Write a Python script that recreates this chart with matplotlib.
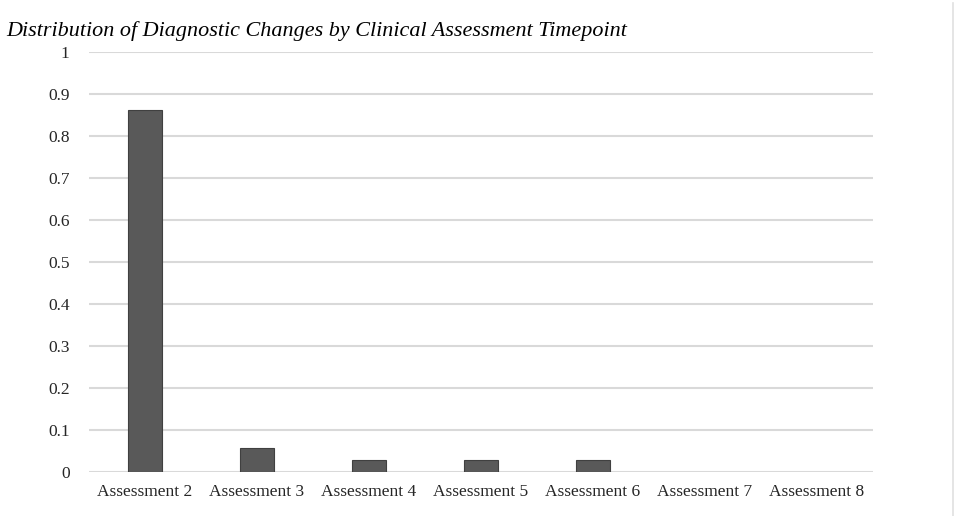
import matplotlib
matplotlib.use("Agg")
import matplotlib.pyplot as plt
from matplotlib.lines import Line2D

categories = ['Assessment 2', 'Assessment 3', 'Assessment 4', 'Assessment 5',
              'Assessment 6', 'Assessment 7', 'Assessment 8']
values = [0.861, 0.056, 0.028, 0.028, 0.028, 0.0, 0.0]
yticks = [0, 0.1, 0.2, 0.3, 0.4, 0.5, 0.6, 0.7, 0.8, 0.9, 1]
ytick_labels = ['0', '0.1', '0.2', '0.3', '0.4', '0.5', '0.6', '0.7', '0.8', '0.9', '1']
title = 'Distribution of Diagnostic Changes by Clinical Assessment Timepoint'

plt.rcParams['font.family'] = ['Liberation Serif', 'DejaVu Serif']

fig = plt.figure(figsize=(9.57, 5.16), dpi=100)
ax = fig.add_axes([0.093, 0.0853, 0.819, 0.8137])

x = range(len(categories))
# no outline for empty bars so nothing shows on the baseline
edge_w = [0.8 if v > 0 else 0 for v in values]
ax.bar(x, values, width=0.3, color='#595959', edgecolor='#404040', linewidth=edge_w, zorder=3)

ax.set_xlim(-0.5, len(categories) - 0.5)
ax.set_ylim(0, 1)
ax.set_yticks(yticks)
ax.set_yticklabels(ytick_labels)
ax.set_xticks(list(x))
ax.set_xticklabels(categories)

ax.grid(axis='y', color='#d9d9d9', linewidth=1.5, zorder=0)
ax.tick_params(axis='both', length=0, labelsize=12.5, colors='#404040', labelcolor='#262626')
ax.tick_params(axis='x', pad=9)
ax.tick_params(axis='y', pad=14)

# remove frame
for s in ax.spines.values():
    s.set_visible(False)

fig.text(0.007, 0.94, title, fontsize=15.9, style='italic', color='black', ha='left', va='center')

# thin border line on the right
fig.add_artist(Line2D([953 / 957, 953 / 957], [0, 1 - 3 / 516], color='#e0e0e0', linewidth=1.2))

fig.savefig('out.png', dpi=100)
